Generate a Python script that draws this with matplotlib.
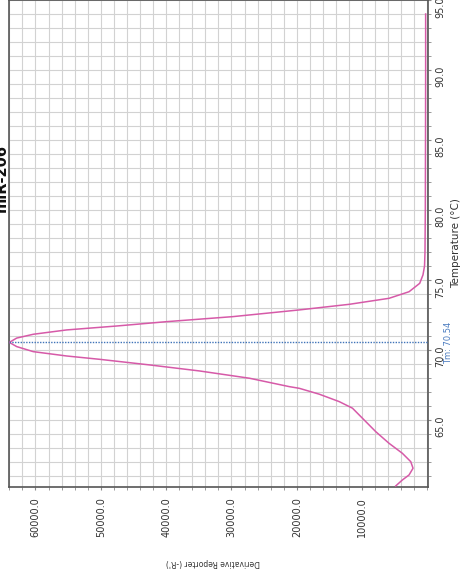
import matplotlib
matplotlib.use("Agg")
import matplotlib.pyplot as plt
from matplotlib.ticker import MultipleLocator, FixedLocator, FuncFormatter

# melt curve, temperature (°C) vs derivative reporter (-R')
temperature = [60.29, 60.71, 61.07, 61.55, 62.02, 62.62, 63.33, 64.16, 65.12, 65.84,
               66.31, 66.84, 67.26, 67.38, 67.98, 68.5, 68.93, 69.33, 69.57, 69.88,
               70.24, 70.54, 70.85, 71.12, 71.43, 71.71, 72.02, 72.38, 72.86, 73.26,
               73.69, 74.16, 74.76, 75.36, 76.0, 77.0, 80.0, 85.0, 90.0, 94.0]
derivative = [4850, 3850, 2820, 2210, 2560, 3850, 5880, 7910, 9950, 11480,
              13510, 16560, 19620, 21150, 27250, 34890, 42520, 50150, 55240, 60340,
              62870, 64000, 62870, 60340, 55240, 47600, 39970, 29800, 19620, 11980,
              5880, 2820, 1190, 690, 450, 380, 330, 300, 280, 280]
tm = 70.54
title = "miR-206"

temp_ticks = [65, 70, 75, 80, 85, 90, 95]
deriv_ticks = [10000, 20000, 30000, 40000, 50000, 60000]

W, H = 463, 585
fig = plt.figure(figsize=(W / 100, H / 100), dpi=100)
ax = fig.add_axes([9 / W, 1 - 487 / H, (428 - 9) / W, 487 / H])

# the instrument view is turned on its side: temperature runs upward,
# derivative grows to the left
ax.plot(derivative, temperature, color="#d65aa8", lw=1.1, zorder=3)
ax.axhline(tm, color="#3f73b8", lw=1.0, ls=(0, (1, 1)), zorder=4)

ax.set_xlim(64050, -80)
ax.set_ylim(60.21, 95.0)

ax.xaxis.set_major_locator(FixedLocator(deriv_ticks))
ax.xaxis.set_minor_locator(MultipleLocator(2000))
ax.yaxis.set_major_locator(FixedLocator(temp_ticks))
ax.yaxis.set_minor_locator(MultipleLocator(1))
fmt = FuncFormatter(lambda v, p: f"{v:.1f}")
ax.xaxis.set_major_formatter(fmt)
ax.yaxis.set_major_formatter(fmt)

ax.grid(which="both", color="#d2d2d2", lw=0.8)
ax.set_axisbelow(True)

ax.yaxis.tick_right()
ax.tick_params(axis="x", which="both", direction="out", length=2.5,
               color="#8a8a8a", labelrotation=90, labelsize=7, pad=4.7,
               labelcolor="#333333")
ax.tick_params(axis="y", which="both", direction="out", length=2.5,
               color="#8a8a8a", labelrotation=90, labelsize=7, pad=2.5,
               labelcolor="#333333", left=False, right=True,
               labelleft=False, labelright=True)

for s in ax.spines.values():
    s.set_color("#555555")
    s.set_linewidth(1.2)

fig.text(9 / W, 1 - 178 / H, title, rotation=90, fontsize=10.5,
         fontweight="bold", ha="right", va="center", color="#111111")
fig.text(448.5 / W, 1 - 343 / H, f"Tm: {tm:.2f}", rotation=90, fontsize=6,
         color="#4a7bbf", ha="center", va="center")
fig.text(456 / W, 1 - 243 / H, "Temperature (°C)", rotation=90, fontsize=7.5,
         color="#333333", ha="center", va="center")
fig.text(213 / W, 1 - 563 / H, "Derivative Reporter (-R')", rotation=180,
         fontsize=5.5, color="#333333", ha="center", va="center")

fig.savefig("out.png", dpi=100)
